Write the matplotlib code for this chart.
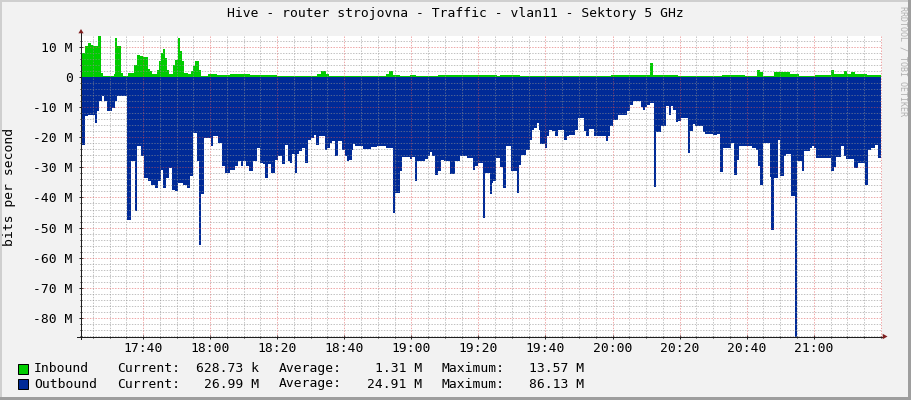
import numpy as np
import matplotlib
matplotlib.use("Agg")
import matplotlib.pyplot as plt
from matplotlib.patches import Polygon, Rectangle
from matplotlib.lines import Line2D

# texty
title = "Hive - router strojovna - Traffic - vlan11 - Sektory 5 GHz"
ylabel = "bits per second"
watermark = "RRDTOOL / TOBI OETIKER"

# cas v minutach od 17:00
t_start = 21.5
t_end = 260.2

# Inbound (Mbit/s)
in_minutes = [21.4, 21.8, 22.8, 23.6, 24.6, 25.2, 26.0, 26.6, 27.5, 28.1,
              31.3, 31.7, 32.3, 33.3, 33.9, 35.5, 37.4, 38.2, 39.0, 40.0,
              41.4, 42.0, 42.6, 44.2, 44.8, 45.4, 46.0, 46.5, 47.1, 47.7,
              48.9, 49.5, 50.3, 50.9, 51.5, 52.3, 53.3, 54.3, 54.8, 55.4,
              56.6, 57.4, 59.4, 62.0, 66.0, 72.0, 80.0, 92.0, 93.0, 94.6,
              95.5, 112.5, 113.4, 114.4, 116.5, 119.5, 121.5, 128.0, 140.0, 145.5,
              146.5, 152.5, 179.5, 191.2, 192.0, 193.0, 199.6, 212.5, 219.5, 223.0,
              224.0, 225.0, 228.0, 233.0, 235.5, 240.5, 245.0, 246.0, 249.0, 249.8,
              251.2, 252.2, 256.0]
in_mbit = [6.5, 8.0, 10.2, 11.1, 10.7, 10.4, 10.2, 13.57, 1.3, 0.4,
           0.8, 13.0, 10.2, 1.3, 0.4, 1.3, 4.1, 7.4, 6.9, 6.5,
           2.7, 1.9, 0.8, 2.4, 5.2, 8.0, 9.3, 6.3, 2.4, 0.8,
           3.8, 5.5, 13.0, 8.5, 5.2, 1.3, 0.8, 1.9, 3.5, 5.2,
           2.4, 0.4, 0.9, 0.7, 0.8, 0.7, 0.4, 0.9, 1.9, 0.8,
           0.3, 0.9, 1.9, 0.7, 0.4, 0.6, 0.3, 0.5, 0.7, 0.4,
           0.7, 0.2, 0.6, 4.6, 0.6, 0.5, 0.2, 0.6, 0.4, 2.4,
           1.5, 0.4, 1.5, 1.0, 0.3, 0.6, 2.4, 0.9, 1.8, 0.8,
           1.5, 0.8, 0.63]

# Outbound (Mbit/s, kresleno pod nulou)
out_minutes = [21.4, 21.7, 22.6, 23.6, 25.6, 26.2, 26.8, 27.8, 28.4, 29.4,
               30.6, 31.5, 32.3, 35.3, 36.3, 37.5, 38.3, 39.3, 40.3, 41.5,
               42.5, 43.7, 44.5, 45.3, 46.1, 46.7, 47.7, 48.5, 49.4, 50.4,
               52.0, 53.2, 54.0, 55.0, 56.0, 56.8, 57.4, 58.2, 60.2, 61.0,
               62.4, 63.4, 64.4, 66.0, 67.3, 68.3, 69.1, 69.9, 70.7, 71.7,
               72.7, 73.9, 74.9, 75.9, 76.5, 77.3, 78.3, 79.3, 80.3, 81.3,
               82.3, 83.1, 83.7, 84.5, 85.2, 85.8, 86.6, 87.4, 88.4, 89.2,
               90.0, 91.0, 91.6, 92.4, 93.2, 94.2, 95.0, 95.8, 96.4, 97.2,
               98.0, 99.4, 100.2, 100.7, 101.4, 102.2, 102.7, 103.3, 105.5, 108.1,
               109.7, 111.3, 112.3, 114.5, 115.1, 116.7, 117.3, 119.5, 120.3, 121.0,
               121.8, 124.0, 125.0, 125.6, 126.2, 127.0, 128.0, 128.8, 129.6, 131.4,
               133.0, 134.6, 136.6, 138.3, 138.9, 139.9, 141.3, 142.1, 143.5, 144.1,
               144.5, 145.3, 146.5, 147.3, 148.3, 149.7, 151.5, 152.1, 152.7, 154.1,
               155.5, 156.1, 156.7, 157.4, 158.0, 158.4, 160.0, 160.6, 161.2, 162.0,
               162.8, 163.8, 165.6, 166.4, 167.0, 168.8, 169.6, 171.4, 172.2, 173.0,
               174.6, 177.9, 178.5, 179.3, 180.1, 181.7, 184.3, 185.3, 186.1, 188.5,
               189.1, 189.7, 190.3, 191.1, 192.3, 193.0, 194.4, 196.0, 196.8, 197.4,
               198.0, 198.8, 199.6, 200.4, 202.4, 203.2, 204.0, 204.6, 207.0, 207.6,
               209.9, 211.1, 212.1, 212.9, 215.3, 216.1, 217.1, 217.7, 221.7, 222.7,
               223.5, 224.1, 224.9, 226.9, 227.3, 228.0, 229.2, 229.8, 231.0, 231.6,
               233.2, 234.45, 235.05, 236.4, 237.2, 238.8, 239.4, 240.2, 240.8, 245.2,
               245.9, 246.7, 248.1, 248.9, 249.5, 251.9, 253.3, 255.3, 256.1, 257.0,
               258.3, 259.1]
out_mbit = [-28.0, -22.5, -13.0, -12.5, -15.3, -11.4, -8.0, -6.4, -8.0, -11.4,
            -10.3, -8.0, -6.4, -47.4, -28.0, -44.6, -23.0, -26.4, -33.5, -34.7,
            -35.8, -36.9, -34.7, -30.8, -36.9, -33.5, -30.2, -37.4, -38.0, -35.2,
            -35.8, -36.9, -33.0, -18.6, -28.0, -55.7, -39.0, -20.3, -23.0, -19.7,
            -21.9, -29.7, -31.9, -30.8, -29.7, -28.0, -29.7, -28.0, -29.7, -31.3,
            -28.0, -23.6, -28.6, -29.0, -33.5, -29.0, -31.9, -27.5, -26.4, -29.0,
            -22.5, -28.0, -28.6, -25.5, -31.9, -25.5, -24.7, -23.6, -28.6, -20.8,
            -20.3, -19.2, -22.5, -19.7, -19.5, -24.1, -23.6, -21.9, -21.2, -26.1,
            -21.4, -24.1, -26.4, -28.0, -27.5, -24.1, -22.3, -22.8, -23.9, -23.1,
            -23.0, -22.8, -23.6, -45.2, -38.5, -31.3, -26.6, -27.2, -26.6, -34.7,
            -28.0, -27.2, -26.4, -25.0, -26.4, -32.4, -31.3, -27.5, -28.0, -32.1,
            -28.0, -26.4, -27.0, -30.8, -29.7, -28.6, -46.7, -31.9, -38.8, -35.2,
            -34.7, -26.9, -29.9, -36.9, -23.0, -31.3, -38.5, -29.1, -25.8, -24.1,
            -20.8, -17.5, -16.9, -15.3, -17.5, -22.3, -23.6, -19.7, -17.5, -18.0,
            -19.7, -17.5, -20.8, -19.5, -19.2, -17.5, -13.6, -18.0, -19.5, -17.3,
            -19.7, -21.4, -19.7, -16.4, -14.2, -12.8, -11.4, -9.2, -8.1, -10.0,
            -10.9, -10.0, -9.2, -8.6, -36.5, -18.4, -16.4, -9.5, -12.8, -9.8,
            -10.9, -15.1, -14.7, -13.6, -25.2, -18.0, -15.5, -16.4, -18.4, -18.8,
            -19.2, -18.8, -31.7, -23.6, -21.9, -32.7, -27.5, -23.0, -23.6, -24.1,
            -29.7, -35.8, -21.9, -33.2, -50.7, -33.6, -20.8, -33.0, -26.4, -25.5,
            -39.6, -86.13, -28.0, -31.3, -24.7, -23.6, -22.8, -23.6, -26.9, -31.3,
            -29.9, -26.6, -22.8, -26.1, -27.2, -30.2, -28.6, -35.8, -24.4, -23.5,
            -22.5, -26.99]

assert len(in_minutes) == len(in_mbit)
assert len(out_minutes) == len(out_mbit)

xtick_minutes = [40, 60, 80, 100, 120, 140, 160, 180, 200, 220, 240]
xtick_labels = ["17:40", "18:00", "18:20", "18:40", "19:00", "19:20",
                "19:40", "20:00", "20:20", "20:40", "21:00"]
ytick_values = [10, 0, -10, -20, -30, -40, -50, -60, -70, -80]
ytick_labels = ["10 M", "0", "-10 M", "-20 M", "-30 M", "-40 M",
                "-50 M", "-60 M", "-70 M", "-80 M"]
y_min, y_max = -86.13, 13.57

legend_names = ["Inbound", "Outbound"]
legend_colors = ["#00cc00", "#002a97"]
legend_current = ["628.73 k", "26.99 M"]
legend_average = ["1.31 M", "24.91 M"]
legend_maximum = ["13.57 M", "86.13 M"]

# barvy ve stylu rrdtool
back = "#f2f2f2"
shade_a = "#cfcfcf"
shade_b = "#9e9e9e"
grid_col = (0.56, 0.56, 0.56, 0.55)
mgrid_col = (0.87, 0.31, 0.31, 0.5)
axis_col = "#1f1f1f"
arrow_col = "#801f1f"
mono = "DejaVu Sans Mono"
fs = 9.4

W, H = 911, 400
fig = plt.figure(figsize=(W / 100, H / 100), dpi=100, facecolor=back)

# plocha grafu v pixelech
px_l, px_r, px_t, px_b = 81, 881.5, 36, 336.5
ax = fig.add_axes([px_l / W, 1 - px_b / H, (px_r - px_l) / W, (px_b - px_t) / H])
ax.set_facecolor("white")
ax.set_xlim(t_start, t_end)
ax.set_ylim(y_min, y_max)
for s in ax.spines.values():
    s.set_visible(False)

# plochy dat
ti = np.r_[in_minutes, t_end]
vi = np.r_[in_mbit, in_mbit[-1]]
to = np.r_[out_minutes, t_end]
vo = np.r_[out_mbit, out_mbit[-1]]
ax.fill_between(ti, 0, vi, step="post", color=legend_colors[0], lw=0, zorder=2)
ax.fill_between(to, 0, vo, step="post", color=legend_colors[1], lw=0, zorder=2)

# mrizka
lw1 = 0.72
dash = (0, (1.4, 1.4))
for m in np.arange(25, t_end, 5):
    major = m % 20 == 0
    ax.axvline(m, color=mgrid_col if major else grid_col, lw=lw1, ls=dash, zorder=3)
for v in np.arange(-86, 14, 2):
    major = v % 10 == 0
    if v == 0:
        continue
    ax.axhline(v, color=mgrid_col if major else grid_col, lw=lw1, ls=dash, zorder=3)

# osy
ax.set_xticks(xtick_minutes, xtick_labels)
ax.set_yticks(ytick_values, ytick_labels)
ax.set_xticks(np.arange(25, t_end, 5), minor=True)
ax.set_yticks(np.arange(-86, 14, 2), minor=True)
ax.tick_params(axis="both", which="major", length=2.2, width=lw1, color=axis_col,
               direction="inout", labelsize=fs)
ax.tick_params(axis="both", which="minor", length=1.4, width=lw1, color=axis_col,
               direction="inout")
ax.tick_params(axis="x", which="major", pad=2.5)
ax.tick_params(axis="y", which="major", pad=5)
for lab in ax.get_xticklabels() + ax.get_yticklabels():
    lab.set_family(mono)

dx = 1 / (px_r - px_l)
dy = 1 / (px_b - px_t)
ax.add_line(Line2D([0, 0], [-2 * dy, 1 + 3 * dy], transform=ax.transAxes,
                   color=axis_col, lw=lw1, clip_on=False, zorder=5))
ax.add_line(Line2D([-4 * dx, 1 + 2 * dx], [0, 0], transform=ax.transAxes,
                   color=axis_col, lw=lw1, clip_on=False, zorder=5))
ax.add_patch(Polygon([[-2.6 * dx, 1 + 2.7 * dy], [2.6 * dx, 1 + 2.7 * dy], [0, 1 + 7 * dy]],
                     closed=True, transform=ax.transAxes, color=arrow_col,
                     clip_on=False, zorder=6, lw=0))
ax.add_patch(Polygon([[1 + 1.2 * dx, -2.7 * dy], [1 + 1.2 * dx, 2.7 * dy], [1 + 6 * dx, 0]],
                     closed=True, transform=ax.transAxes, color=arrow_col,
                     clip_on=False, zorder=6, lw=0))

# popisky
fig.text(455.5 / W, 1 - 14 / H, title, ha="center", va="center", family=mono, fontsize=fs)
fig.text(10 / W, 1 - 187 / H, ylabel, ha="center", va="center", rotation=90,
         family=mono, fontsize=fs)
fig.text(903 / W, 1 - 6 / H, watermark, ha="center", va="top", rotation=270,
         family=mono, fontsize=6, color="#b0b0b0")

# legenda
row_y = [368.5, 384]
for i in range(2):
    y = row_y[i]
    fig.add_artist(Rectangle((17.5 / W, 1 - (y + 5) / H), 10 / W, 10 / H,
                             transform=fig.transFigure, facecolor=legend_colors[i],
                             edgecolor="black", lw=lw1))
    yy = 1 - y / H
    fig.text(34 / W, yy, legend_names[i], ha="left", va="center", family=mono, fontsize=fs)
    fig.text(117 / W, yy, "Current:", ha="left", va="center", family=mono, fontsize=fs)
    fig.text(259 / W, yy, legend_current[i], ha="right", va="center", family=mono, fontsize=fs)
    fig.text(279 / W, yy, "Average:", ha="left", va="center", family=mono, fontsize=fs)
    fig.text(422.5 / W, yy, legend_average[i], ha="right", va="center", family=mono, fontsize=fs)
    fig.text(441 / W, yy, "Maximum:", ha="left", va="center", family=mono, fontsize=fs)
    fig.text(584 / W, yy, legend_maximum[i], ha="right", va="center", family=mono, fontsize=fs)

# ramecek obrazku
fig.add_artist(Rectangle((0, 0), 2 / W, 1, transform=fig.transFigure, color=shade_a, lw=0))
fig.add_artist(Rectangle((0, 1 - 2 / H), 1, 2 / H, transform=fig.transFigure, color=shade_a, lw=0))
fig.add_artist(Rectangle((1 - 3 / W, 0), 3 / W, 1, transform=fig.transFigure, color=shade_b, lw=0))
fig.add_artist(Rectangle((0, 0), 1, 3 / H, transform=fig.transFigure, color=shade_b, lw=0))

fig.savefig("out.png", dpi=100, facecolor=back)
